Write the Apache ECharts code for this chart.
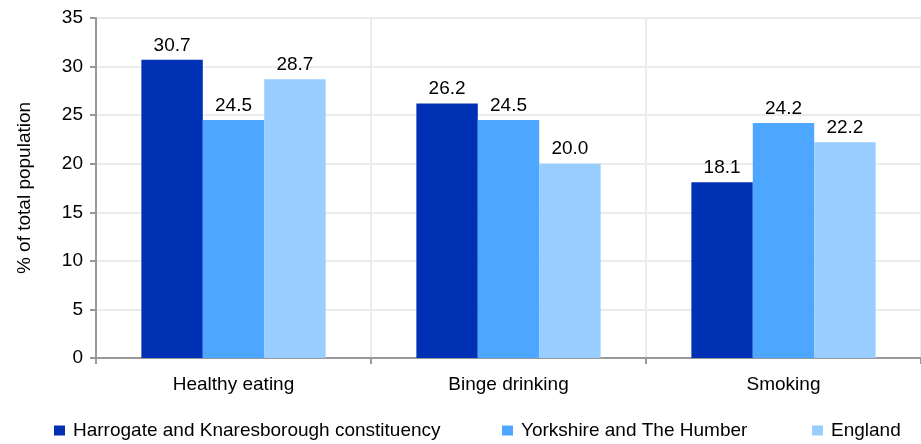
<!DOCTYPE html>
<html><head><meta charset="utf-8">
<script src="https://cdn.jsdelivr.net/npm/echarts@6/dist/echarts.min.js"></script>
<style>html,body{margin:0;padding:0;background:#fff}#c{width:921px;height:444px}</style>
</head><body><div id="c"></div>
<script>
const categories = ["Healthy eating", "Binge drinking", "Smoking"];
const seriesNames = ["Harrogate and Knaresborough constituency", "Yorkshire and The Humber", "England"];
const harrogate = [30.7, 26.2, 18.1];
const yorkshire = [24.5, 24.5, 24.2];
const england = [28.7, 20.0, 22.2];
const colors = ["#0030B4", "#4DA6FF", "#99CCFF"];
const font = "Liberation Sans, Arial, sans-serif";
const fs = 19;
const chart = echarts.init(document.getElementById('c'));
const values = [harrogate, yorkshire, england];
chart.setOption({
  animation: false,
  textStyle: {fontFamily: font},
  grid: {left: 96, right: 0, top: 18, bottom: 86, containLabel: false},
  legend: [0,1,2].map((i) => ({
    data: [seriesNames[i]],
    left: [54, 502, 812][i], top: 421, padding: 0,
    itemWidth: 11, itemHeight: 10, icon: 'rect', itemGap: 0,
    textStyle: {fontSize: fs, color: '#000', fontFamily: font, padding: [0,0,0,3]}
  })),
  xAxis: {
    type: 'category', data: categories,
    axisLine: {lineStyle: {color: '#999', width: 2}},
    axisTick: {show: true, length: 6, lineStyle: {color: '#999', width: 2}},
    axisLabel: {fontSize: fs, color: '#000', margin: 17, fontFamily: font},
    splitLine: {show: true, lineStyle: {color: '#ebebeb', width: 2}}
  },
  yAxis: {
    type: 'value', min: 0, max: 35, interval: 5,
    name: '% of total population', nameLocation: 'middle', nameGap: 62,
    nameTextStyle: {fontSize: fs, color: '#000', fontFamily: font},
    axisLine: {show: true, lineStyle: {color: '#999', width: 2}},
    axisTick: {show: true, length: 6, lineStyle: {color: '#999', width: 2}},
    axisLabel: {fontSize: fs, color: '#000', margin: 13, fontFamily: font},
    splitLine: {show: true, lineStyle: {color: '#ebebeb', width: 2}}
  },
  series: [0,1,2].map((i) => ({
    type: 'bar', name: seriesNames[i], data: values[i],
    itemStyle: {color: colors[i]},
    barGap: '0%', barCategoryGap: '33%',
    label: {show: true, position: 'top', fontSize: fs, color: '#000', distance: 5,
      fontFamily: font, formatter: (p) => p.value.toFixed(1)}
  }))
});
</script></body></html>
